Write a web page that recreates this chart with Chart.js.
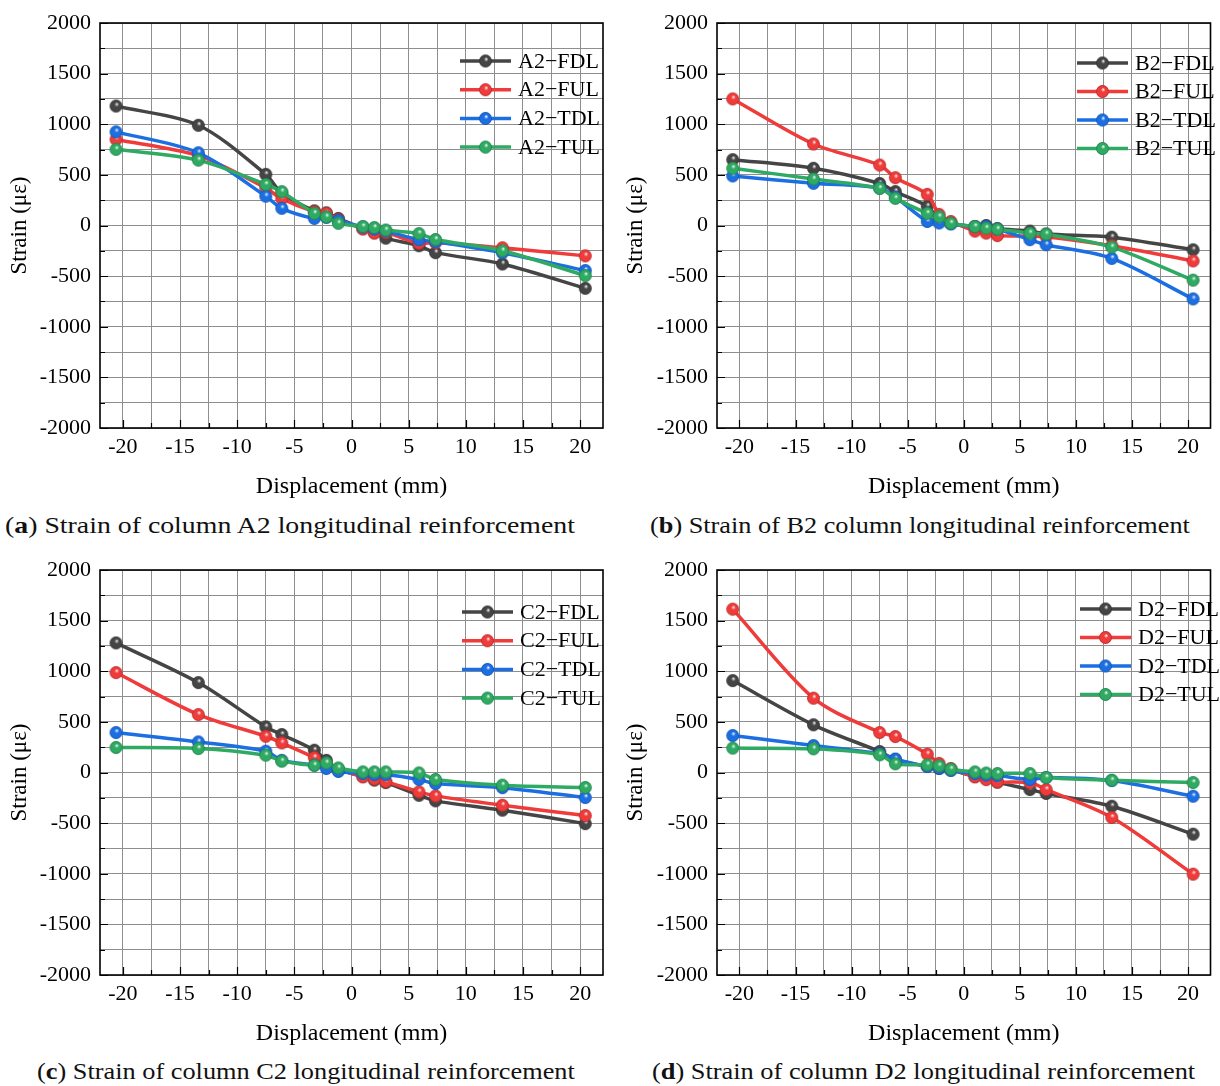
<!DOCTYPE html>
<html>
<head>
<meta charset="utf-8">
<script src="https://cdn.jsdelivr.net/npm/chart.js@4.4.1/dist/chart.umd.min.js"></script>
<style>
  html, body { margin:0; padding:0; background:#fff; }
  body { width:1220px; height:1086px; position:relative; overflow:hidden; }
  canvas { position:absolute; }
  .cap { position:absolute; font-family:'Times New Roman', Tinos, 'Liberation Serif', 'Nimbus Roman', serif; font-size:23px; color:#111; white-space:nowrap; line-height:1; transform-origin:left center; }
</style>
</head>
<body>
<canvas id="cA" width="615" height="505" style="left:0;top:0"></canvas>
<canvas id="cB" width="604" height="505" style="left:616px;top:0"></canvas>
<canvas id="cC" width="615" height="505" style="left:0;top:547px"></canvas>
<canvas id="cD" width="604" height="505" style="left:616px;top:547px"></canvas>
<div class="cap" style="left:5px;top:514px" data-w="570">(<b>a</b>) Strain of column A2 longitudinal reinforcement</div>
<div class="cap" style="left:650px;top:514px" data-w="540">(<b>b</b>) Strain of B2 column longitudinal reinforcement</div>
<div class="cap" style="left:37px;top:1060px" data-w="538">(<b>c</b>) Strain of column C2 longitudinal reinforcement</div>
<div class="cap" style="left:652px;top:1060px" data-w="543">(<b>d</b>) Strain of column D2 longitudinal reinforcement</div>
<script>
// displacement steps (mm), shared by all four columns
const disp = [-20.6, -13.4, -7.5, -6.1, -3.25, -2.2, -1.15, 1.0, 2.0, 3.0, 5.9, 7.35, 13.2, 20.45];
const xTickLabels = [-20, -15, -10, -5, 0, 5, 10, 15, 20];
const yTickLabels = [-2000, -1500, -1000, -500, 0, 500, 1000, 1500, 2000];
const seriesNames = ['FDL', 'FUL', 'TDL', 'TUL'];
const seriesColors = ['#454545', '#f03b3b', '#1c6fe3', '#2faa63'];

// strain (με)
const a2FDL = [1180, 990, 505, 320, 145, 125, 70, -30, -70, -125, -200, -268, -380, -620];
const a2FUL = [850, 690, 370, 265, 135, 120, 60, -35, -75, -70, -175, -170, -220, -300];
const a2TDL = [925, 718, 290, 170, 70, 80, 50, -15, -35, -55, -140, -160, -270, -445];
const a2TUL = [752, 646, 405, 334, 120, 85, 22, -10, -20, -45, -80, -138, -250, -495];

const b2FDL = [650, 565, 415, 335, 190, 60, 20, -10, 0, -30, -55, -85, -115, -240];
const b2FUL = [1250, 805, 597, 472, 308, 110, 40, -55, -75, -100, -105, -110, -200, -350];
const b2TDL = [490, 417, 370, 280, 40, 25, 15, -10, -10, -35, -140, -190, -325, -725];
const b2TUL = [565, 459, 367, 268, 120, 87, 23, -10, -26, -36, -75, -85, -213, -540];

const c2FDL = [1280, 888, 450, 375, 220, 120, 30, -40, -75, -100, -225, -280, -372, -505];
const c2FUL = [987, 572, 358, 292, 148, 80, 30, -43, -65, -90, -191, -231, -323, -425];
const c2TDL = [395, 302, 210, 120, 72, 40, 10, -10, -20, -20, -69, -109, -150, -247];
const c2TUL = [247, 237, 171, 112, 72, 95, 45, 6, 6, 6, -4, -69, -125, -148];

const d2FDL = [908, 471, 207, 130, 60, 40, 25, -40, -60, -95, -168, -207, -333, -609];
const d2FUL = [1613, 734, 395, 355, 182, 90, 40, -43, -70, -93, -102, -168, -444, -1004];
const d2TDL = [365, 266, 185, 132, 59, 43, 20, -10, -25, -30, -69, -50, -80, -234];
const d2TUL = [241, 234, 175, 86, 76, 66, 33, 6, -5, -10, -10, -49, -76, -99];

const FONT = "'Times New Roman', Tinos, 'Liberation Serif', 'Nimbus Roman', serif";

// glossy ball marker
function ball(color, r){
  const s = Math.ceil(r*2 + 2), m = s/2;
  const c = document.createElement('canvas');
  c.width = c.height = s;
  const g = c.getContext('2d');
  const grad = g.createRadialGradient(m + r*0.15, m - r*0.35, 0, m, m, r);
  grad.addColorStop(0, '#ffffff');
  grad.addColorStop(0.35, color);
  grad.addColorStop(1, color);
  g.fillStyle = grad;
  g.beginPath(); g.arc(m, m, r, 0, Math.PI*2); g.fill();
  g.globalAlpha = 0.25;
  g.strokeStyle = '#000'; g.lineWidth = 0.8;
  g.beginPath(); g.arc(m, m, r-0.4, 0, Math.PI*2); g.stroke();
  return c;
}
const balls = seriesColors.map(c => ball(c, 6.4));

// box around the plot plus inward ticks on bottom/left
const frame = {
  id:'frame',
  beforeDatasetsDraw(chart){
    const {ctx, chartArea:a, scales:{x, y}} = chart;
    ctx.save();
    ctx.strokeStyle = '#000';
    ctx.lineWidth = 1.2;
    ctx.beginPath();
    x.ticks.forEach(t => {
      const px = Math.round(x.getPixelForValue(t.value)) + 0.5;
      const len = t.value % 5 === 0 ? 8 : 5;
      ctx.moveTo(px, a.bottom); ctx.lineTo(px, a.bottom - len);
    });
    y.ticks.forEach(t => {
      const py = Math.round(y.getPixelForValue(t.value)) + 0.5;
      const len = t.value % 500 === 0 ? 8 : 5;
      ctx.moveTo(a.left, py); ctx.lineTo(a.left + len, py);
    });
    ctx.stroke();
    ctx.lineWidth = 1.6;
    ctx.strokeRect(a.left, a.top, a.right - a.left, a.bottom - a.top);
    ctx.restore();
  }
};

// legend with line sample and marker
const lineLegend = {
  id:'lineLegend',
  afterDraw(chart, args, opts){
    const ctx = chart.ctx;
    ctx.save();
    chart.data.datasets.forEach((ds, i) => {
      const y = opts.y + i*opts.gap;
      ctx.strokeStyle = ds.borderColor;
      ctx.lineWidth = 3.5;
      ctx.beginPath(); ctx.moveTo(opts.x, y); ctx.lineTo(opts.x + 51, y); ctx.stroke();
      const img = ds.pointStyle;
      ctx.drawImage(img, opts.x + 25.5 - img.width/2, y - img.height/2);
      ctx.fillStyle = '#000';
      ctx.font = '22px ' + FONT;
      ctx.textBaseline = 'middle';
      ctx.fillText(ds.label, opts.x + 58, y + 1);
    });
    ctx.restore();
  }
};

function makeChart(id, tag, series, yAxisW, padRight, legendPos){
  const datasets = series.map((vals, i) => ({
    label: tag + '\u2212' + seriesNames[i],
    data: disp.map((d, k) => ({x: d, y: vals[k]})),
    borderColor: seriesColors[i],
    backgroundColor: seriesColors[i],
    borderWidth: 3.5,
    tension: 0.3,
    pointStyle: balls[i],
    pointRadius: 6,
    order: 4 - i
  }));
  return new Chart(document.getElementById(id), {
    type:'line',
    data:{ datasets },
    options:{
      responsive:false,
      animation:false,
      devicePixelRatio:1,
      layout:{ padding:{ left:0, top:23, right:padRight, bottom:0 } },
      plugins:{ legend:{display:false}, tooltip:{enabled:false}, lineLegend:legendPos },
      scales:{
        x:{
          type:'linear', min:-22, max:22,
          afterBuildTicks: s => { const t = []; for(let v=-20; v<=20; v+=2.5) t.push({value:v}); s.ticks = t; },
          afterFit: s => { s.height = 77; },
          grid:{ color:'#8e8e8e', lineWidth:1, drawTicks:false },
          border:{ display:false },
          ticks:{ padding:6, color:'#000', font:{family:FONT, size:22}, maxRotation:0, autoSkip:false,
            callback: v => xTickLabels.includes(v) ? String(v) : '' },
          title:{ display:true, text:'Displacement (mm)', color:'#000', font:{family:FONT, size:24}, padding:{top:0, bottom:4} }
        },
        y:{
          min:-2000, max:2000,
          afterBuildTicks: s => { const t = []; for(let v=-2000; v<=2000; v+=250) t.push({value:v}); s.ticks = t; },
          afterFit: s => { s.width = yAxisW; },
          grid:{ color:'#8e8e8e', lineWidth:1, drawTicks:false },
          border:{ display:false },
          ticks:{ padding:9, color:'#000', font:{family:FONT, size:22}, autoSkip:false,
            callback: v => yTickLabels.includes(v) ? String(v) : '' },
          title:{ display:true, text:'Strain (\u03bc\u03b5)', color:'#000', font:{family:FONT, size:23}, padding:{top:6, bottom:0} }
        }
      }
    },
    plugins:[frame, lineLegend]
  });
}

makeChart('cA', 'A2', [a2FDL, a2FUL, a2TDL, a2TUL], 100, 12, {x:460, y:61, gap:28.7});
makeChart('cB', 'B2', [b2FDL, b2FUL, b2TDL, b2TUL], 101, 2, {x:461, y:63, gap:28.5});
makeChart('cC', 'C2', [c2FDL, c2FUL, c2TDL, c2TUL], 100, 12, {x:462, y:65, gap:28.7});
makeChart('cD', 'D2', [d2FDL, d2FUL, d2TDL, d2TUL], 101, 2, {x:464, y:62, gap:28.5});

// stretch each caption to its printed width
document.querySelectorAll('.cap').forEach(el => {
  const w = el.getBoundingClientRect().width;
  el.style.transform = 'scaleX(' + (el.dataset.w / w).toFixed(3) + ')';
});
</script>
</body>
</html>
